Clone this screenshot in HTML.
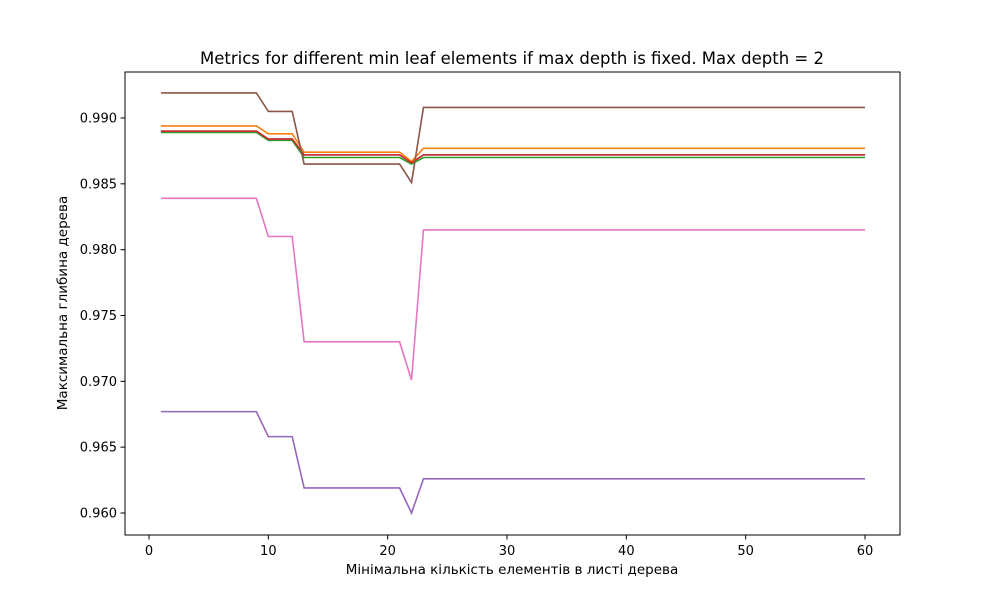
<!DOCTYPE html>
<html><head><meta charset="utf-8"><style>
body{margin:0;background:#fff;font-family:"Liberation Sans","DejaVu Sans",sans-serif}
</style></head><body>
<svg id="chart" width="1000" height="600" xmlns="http://www.w3.org/2000/svg" font-family="DejaVu Sans, Liberation Sans, sans-serif">
<rect width="1000" height="600" fill="#fff"/>
<text x="512" y="64" font-size="16.5" text-anchor="middle">Metrics for different min leaf elements if max depth is fixed. Max depth = 2</text>
<text x="512" y="574" font-size="13.5" text-anchor="middle">Мінімальна кількість елементів в листі дерева</text>
<text transform="translate(67,303) rotate(-90)" font-size="13.5" text-anchor="middle">Максимальна глибина дерева</text>
<g id="marks"></g>
<g id="axes"></g>
<rect x="125" y="72" width="775" height="463" fill="none" stroke="#000" stroke-width="1"/>
</svg>
<script>
const xTicks=[0,10,20,30,40,50,60];
const yTicks=[0.960,0.965,0.970,0.975,0.980,0.985,0.990];
const xs=[1,2,3,4,5,6,7,8,9,10,11,12,13,14,15,16,17,18,19,20,21,22,23,24,25,26,27,28,29,30,31,32,33,34,35,36,37,38,39,40,41,42,43,44,45,46,47,48,49,50,51,52,53,54,55,56,57,58,59,60];
const sBlue=[0.9890,0.9890,0.9890,0.9890,0.9890,0.9890,0.9890,0.9890,0.9890,0.9884,0.9884,0.9884,0.9872,0.9872,0.9872,0.9872,0.9872,0.9872,0.9872,0.9872,0.9872,0.9866,0.9872,0.9872,0.9872,0.9872,0.9872,0.9872,0.9872,0.9872,0.9872,0.9872,0.9872,0.9872,0.9872,0.9872,0.9872,0.9872,0.9872,0.9872,0.9872,0.9872,0.9872,0.9872,0.9872,0.9872,0.9872,0.9872,0.9872,0.9872,0.9872,0.9872,0.9872,0.9872,0.9872,0.9872,0.9872,0.9872,0.9872,0.9872];
const sOrange=[0.9894,0.9894,0.9894,0.9894,0.9894,0.9894,0.9894,0.9894,0.9894,0.9888,0.9888,0.9888,0.9874,0.9874,0.9874,0.9874,0.9874,0.9874,0.9874,0.9874,0.9874,0.9867,0.9877,0.9877,0.9877,0.9877,0.9877,0.9877,0.9877,0.9877,0.9877,0.9877,0.9877,0.9877,0.9877,0.9877,0.9877,0.9877,0.9877,0.9877,0.9877,0.9877,0.9877,0.9877,0.9877,0.9877,0.9877,0.9877,0.9877,0.9877,0.9877,0.9877,0.9877,0.9877,0.9877,0.9877,0.9877,0.9877,0.9877,0.9877];
const sGreen=[0.9889,0.9889,0.9889,0.9889,0.9889,0.9889,0.9889,0.9889,0.9889,0.9883,0.9883,0.9883,0.9870,0.9870,0.9870,0.9870,0.9870,0.9870,0.9870,0.9870,0.9870,0.9865,0.9870,0.9870,0.9870,0.9870,0.9870,0.9870,0.9870,0.9870,0.9870,0.9870,0.9870,0.9870,0.9870,0.9870,0.9870,0.9870,0.9870,0.9870,0.9870,0.9870,0.9870,0.9870,0.9870,0.9870,0.9870,0.9870,0.9870,0.9870,0.9870,0.9870,0.9870,0.9870,0.9870,0.9870,0.9870,0.9870,0.9870,0.9870];
const sRed=[0.9890,0.9890,0.9890,0.9890,0.9890,0.9890,0.9890,0.9890,0.9890,0.9884,0.9884,0.9884,0.9872,0.9872,0.9872,0.9872,0.9872,0.9872,0.9872,0.9872,0.9872,0.9866,0.9872,0.9872,0.9872,0.9872,0.9872,0.9872,0.9872,0.9872,0.9872,0.9872,0.9872,0.9872,0.9872,0.9872,0.9872,0.9872,0.9872,0.9872,0.9872,0.9872,0.9872,0.9872,0.9872,0.9872,0.9872,0.9872,0.9872,0.9872,0.9872,0.9872,0.9872,0.9872,0.9872,0.9872,0.9872,0.9872,0.9872,0.9872];
const sPurple=[0.9677,0.9677,0.9677,0.9677,0.9677,0.9677,0.9677,0.9677,0.9677,0.9658,0.9658,0.9658,0.9619,0.9619,0.9619,0.9619,0.9619,0.9619,0.9619,0.9619,0.9619,0.9600,0.9626,0.9626,0.9626,0.9626,0.9626,0.9626,0.9626,0.9626,0.9626,0.9626,0.9626,0.9626,0.9626,0.9626,0.9626,0.9626,0.9626,0.9626,0.9626,0.9626,0.9626,0.9626,0.9626,0.9626,0.9626,0.9626,0.9626,0.9626,0.9626,0.9626,0.9626,0.9626,0.9626,0.9626,0.9626,0.9626,0.9626,0.9626];
const sBrown=[0.9919,0.9919,0.9919,0.9919,0.9919,0.9919,0.9919,0.9919,0.9919,0.9905,0.9905,0.9905,0.9865,0.9865,0.9865,0.9865,0.9865,0.9865,0.9865,0.9865,0.9865,0.9851,0.9908,0.9908,0.9908,0.9908,0.9908,0.9908,0.9908,0.9908,0.9908,0.9908,0.9908,0.9908,0.9908,0.9908,0.9908,0.9908,0.9908,0.9908,0.9908,0.9908,0.9908,0.9908,0.9908,0.9908,0.9908,0.9908,0.9908,0.9908,0.9908,0.9908,0.9908,0.9908,0.9908,0.9908,0.9908,0.9908,0.9908,0.9908];
const sPink=[0.9839,0.9839,0.9839,0.9839,0.9839,0.9839,0.9839,0.9839,0.9839,0.9810,0.9810,0.9810,0.9730,0.9730,0.9730,0.9730,0.9730,0.9730,0.9730,0.9730,0.9730,0.9701,0.9815,0.9815,0.9815,0.9815,0.9815,0.9815,0.9815,0.9815,0.9815,0.9815,0.9815,0.9815,0.9815,0.9815,0.9815,0.9815,0.9815,0.9815,0.9815,0.9815,0.9815,0.9815,0.9815,0.9815,0.9815,0.9815,0.9815,0.9815,0.9815,0.9815,0.9815,0.9815,0.9815,0.9815,0.9815,0.9815,0.9815,0.9815];

const NS='http://www.w3.org/2000/svg';
function xScale(v){return 149+(v-0)*(865-149)/60;}
function yScale(v){return 118+(0.990-v)*(513-118)/0.030;}
const axes=document.getElementById('axes');
xTicks.forEach(t=>{
  const l=document.createElementNS(NS,'line');
  
  
  l.setAttribute('x1',xScale(t));l.setAttribute('x2',xScale(t));
  l.setAttribute('y1',535);l.setAttribute('y2',539.5);l.setAttribute('stroke','#000');
  axes.appendChild(l);
  const tx=document.createElementNS(NS,'text');
  
  
  tx.setAttribute('x',xScale(t));tx.setAttribute('y',555);tx.setAttribute('font-size','13');tx.setAttribute('text-anchor','middle');
  tx.textContent=t;axes.appendChild(tx);
});
yTicks.forEach(t=>{
  const l=document.createElementNS(NS,'line');
  
  
  l.setAttribute('x1',120.5);l.setAttribute('x2',125);
  l.setAttribute('y1',yScale(t));l.setAttribute('y2',yScale(t));l.setAttribute('stroke','#000');
  axes.appendChild(l);
  const tx=document.createElementNS(NS,'text');
  
  
  tx.setAttribute('x',117);tx.setAttribute('y',yScale(t)+4.5);tx.setAttribute('font-size','13');tx.setAttribute('text-anchor','end');
  tx.textContent=t.toFixed(3);axes.appendChild(tx);
});
const marks=document.getElementById('marks');
function draw(series,color,name){
  const p=document.createElementNS(NS,'polyline');
  
  
  p.setAttribute('points',series.map((v,i)=>xScale(xs[i]).toFixed(2)+','+yScale(v).toFixed(2)).join(' '));
  p.setAttribute('fill','none');p.setAttribute('stroke',color);p.setAttribute('stroke-width','1.6');
  marks.appendChild(p);
}
draw(sBlue,'#1f77b4','series-blue-line');
draw(sOrange,'#ff7f0e','series-orange-line');
draw(sGreen,'#2ca02c','series-green-line');
draw(sRed,'#d62728','series-red-line');
draw(sPurple,'#9467bd','series-purple-line');
draw(sBrown,'#8c564b','series-brown-line');
draw(sPink,'#e377c2','series-pink-line');
</script>
</body></html>
